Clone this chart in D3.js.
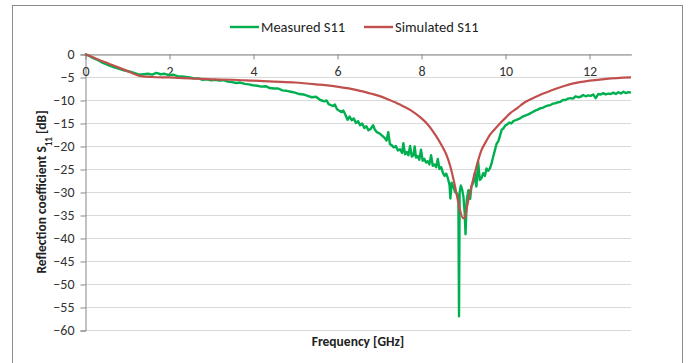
<!DOCTYPE html>
<html>
<head>
<meta charset="utf-8">
<script src="https://cdn.jsdelivr.net/npm/d3@7"></script>
<style>
  body { margin: 0; background: #fff; }
  svg text { font-family: Carlito, "Liberation Sans Narrow", "DejaVu Sans Condensed", sans-serif; }
</style>
</head>
<body>
<svg id="chart"></svg>
<script>
// simulated S11 (GHz, dB)
const simFreq = [0, 0.45, 0.93, 1.33, 1.6, 2, 2.5, 3, 3.5, 4, 4.5, 5, 5.5, 6, 6.5, 6.8, 7, 7.25, 7.5, 7.75,
  8, 8.15, 8.35, 8.5, 8.6, 8.7, 8.78, 8.86, 8.93, 9.0, 9.05, 9.1, 9.17, 9.25, 9.35, 9.44, 9.55, 9.64, 9.76,
  9.88, 10, 10.12, 10.3, 10.44, 10.6, 10.83, 11, 11.23, 11.43, 11.63, 12.02, 12.42, 13];
const simDb = [0, -1.7, -3.4, -4.8, -5.0, -5.1, -5.3, -5.5, -5.6, -5.8, -6.0, -6.2, -6.6, -7.1, -7.9, -8.6, -9.1, -10.0, -11.0, -12.2,
  -13.9, -15.2, -17.7, -20.0, -21.8, -24.5, -27.5, -31, -34, -35.7, -35.5, -33.0, -30.0, -27.0, -23.5, -20.9, -19.0, -17.6, -16.3,
  -15.1, -14.0, -12.9, -11.7, -10.7, -9.9, -8.9, -8.3, -7.5, -6.9, -6.4, -5.8, -5.4, -5.1];

// measured S11 (GHz, dB)
const measFreq = [0, 0.1, 0.2, 0.3, 0.4, 0.5, 0.6, 0.7, 0.8, 0.9, 1.0, 1.1, 1.2, 1.3, 1.4, 1.5, 1.6, 1.7, 1.8, 1.9,
  2.0, 2.1, 2.2, 2.3, 2.4, 2.5, 2.6, 2.7, 2.8, 2.9, 3.0, 3.1, 3.2, 3.3, 3.4, 3.5, 3.6, 3.7, 3.8, 3.9,
  4.0, 4.1, 4.2, 4.3, 4.4, 4.5, 4.6, 4.7, 4.8, 4.9, 5.0, 5.1, 5.2, 5.3, 5.4, 5.5, 5.6, 5.7, 5.75, 5.8,
  5.9, 5.95, 6.0, 6.1, 6.15, 6.2, 6.25, 6.3, 6.35, 6.4, 6.45, 6.5, 6.55, 6.6, 6.65, 6.7, 6.75, 6.8, 6.86, 6.9,
  6.95, 7.02, 7.08, 7.14, 7.18, 7.22, 7.26, 7.3, 7.35, 7.4, 7.45, 7.5, 7.55, 7.58, 7.62, 7.66, 7.7, 7.74, 7.78, 7.82,
  7.85, 7.88, 7.92, 7.96, 8.0, 8.04, 8.08, 8.12, 8.16, 8.2, 8.24, 8.28, 8.32, 8.36, 8.4, 8.44, 8.48, 8.52, 8.56, 8.6,
  8.64, 8.68, 8.7, 8.73, 8.77, 8.81, 8.85, 8.89, 8.905, 8.92, 8.95, 8.98, 9.01, 9.04, 9.06, 9.09, 9.13, 9.17, 9.2, 9.24,
  9.28, 9.32, 9.36, 9.4, 9.44, 9.48, 9.52, 9.56, 9.6, 9.64, 9.68, 9.72, 9.76, 9.8, 9.84, 9.88, 9.92, 9.96, 10.0, 10.05,
  10.1, 10.15, 10.2, 10.25, 10.3, 10.36, 10.42, 10.48, 10.54, 10.6, 10.66, 10.72, 10.78, 10.84, 10.9, 10.96, 11.02, 11.08, 11.14, 11.2,
  11.26, 11.32, 11.38, 11.44, 11.5, 11.56, 11.62, 11.68, 11.74, 11.8, 11.86, 11.92, 11.98, 12.04, 12.1, 12.16, 12.22, 12.28, 12.34, 12.4,
  12.46, 12.52, 12.58, 12.64, 12.7, 12.76, 12.82, 12.88, 12.94, 13.0];
const measDb = [0, -0.4, -0.9, -1.3, -1.8, -2.2, -2.6, -2.9, -3.2, -3.5, -3.7, -3.9, -4.2, -4.5, -4.4, -4.3, -4.5, -4.1, -4.4, -4.3,
  -4.6, -4.5, -4.8, -4.9, -5.0, -5.1, -5.3, -5.3, -5.6, -5.5, -5.7, -5.6, -5.8, -5.7, -6.0, -6.1, -6.3, -6.2, -6.5, -6.6,
  -6.8, -6.9, -7.1, -7.0, -7.4, -7.5, -7.5, -7.9, -8.0, -8.2, -8.4, -8.7, -8.8, -9.1, -9.4, -9.3, -10.0, -10.3, -10.1, -10.9,
  -11.3, -11.0, -12.0, -12.6, -12.3, -13.2, -14.3, -13.6, -14.4, -14.0, -15.0, -14.6, -15.5, -15.1, -16.1, -15.7, -16.6, -16.3, -15.5, -16.4,
  -17.0, -17.3, -17.8, -18.3, -18.8, -17.0, -19.6, -19.8, -20.3, -20.0, -21.0, -20.7, -21.5, -19.4, -21.8, -21.3, -22.0, -20.0, -22.3, -22.0,
  -20.1, -22.5, -22.2, -23.0, -20.8, -23.2, -22.8, -23.6, -23.3, -24.0, -22.0, -24.3, -24.0, -24.6, -22.8, -25.0, -24.6, -25.8, -26.5, -26.0,
  -27.0, -28.5, -31.4, -28.0, -28.8, -30.0, -30.3, -31.0, -57.0, -30.0, -28.6, -29.5, -31.0, -34.5, -39.2, -31.7, -29.6, -31.5, -28.8, -28.1,
  -25.9, -28.8, -23.4, -27.4, -27.0, -25.9, -26.5, -24.9, -25.4, -24.9, -23.8, -22.3, -20.9, -19.5, -19.0, -17.8, -16.5, -16.2, -15.6, -15.3,
  -14.9, -15.1, -14.6, -14.4, -14.2, -14.0, -13.6, -13.4, -13.2, -12.9, -12.6, -12.3, -12.1, -11.8, -11.7, -11.4, -11.2, -11.1, -10.8, -10.7,
  -10.5, -10.4, -10.0, -10.0, -9.7, -9.6, -9.7, -9.2, -9.4, -9.3, -8.9, -9.2, -9.0, -9.1, -8.8, -9.6, -8.7, -8.8, -8.5, -8.8,
  -8.6, -8.7, -8.4, -8.7, -8.3, -8.6, -8.2, -8.5, -8.3, -8.4];

const xTicks = [0, 2, 4, 6, 8, 10, 12];
const yTicks = [0, -5, -10, -15, -20, -25, -30, -35, -40, -45, -50, -55, -60];
const seriesNames = ['Measured S11', 'Simulated S11'];
const seriesColors = ['#00b050', '#c0504d'];

const width = 691, height = 363;
const margin = { top: 54, right: 60, bottom: 33, left: 85 };

const svg = d3.select('#chart').attr('width', width).attr('height', height);

// outer chart frame
svg.append('rect')
  .attr('x', 12.5).attr('y', 5.5)
  .attr('width', 670).attr('height', 370)
  .attr('fill', 'none').attr('stroke', '#8c8c8c');

const x = d3.scaleLinear().domain([0, 13]).range([margin.left, width - margin.right]);
const y = d3.scaleLinear().domain([-60, 0]).range([height - margin.bottom, margin.top]);

// horizontal gridlines
svg.append('g')
  .selectAll('line')
  .data(yTicks)
  .enter()
  .append('line')
  .attr('x1', x(0)).attr('x2', x(13))
  .attr('y1', d => Math.round(y(d)) + 0.5).attr('y2', d => Math.round(y(d)) + 0.5)
  .attr('stroke', '#d9d9d9').attr('stroke-width', 1.2);

// y axis
const yAxis = svg.append('g')
  .attr('transform', `translate(${x(0) + 0.5},0.5)`)
  .call(d3.axisLeft(y).tickValues(yTicks).tickSize(5).tickPadding(6).tickFormat(d3.format('d')));
yAxis.select('.domain').attr('stroke', '#868686');
yAxis.selectAll('.tick line').attr('stroke', '#868686');
yAxis.selectAll('.tick text').attr('fill', '#333').style('font-size', '14px');

// x axis sits on the 0 dB line
const xAxis = svg.append('g')
  .attr('transform', `translate(0.5,${Math.round(y(0)) + 0.5})`)
  .call(d3.axisBottom(x).tickValues(xTicks).tickSize(5).tickPadding(7).tickSizeOuter(0));
xAxis.select('.domain').attr('stroke', '#868686');
xAxis.selectAll('.tick line').attr('stroke', '#868686');
xAxis.selectAll('.tick text').attr('fill', '#333').style('font-size', '14px');

const line = d3.line()
  .x(d => x(d[0]))
  .y(d => y(d[1]));

const measured = measFreq.map((f, i) => [f, measDb[i]]);
const simulated = simFreq.map((f, i) => [f, simDb[i]]);

svg.append('path')
  .datum(measured)
  .attr('d', line)
  .attr('fill', 'none')
  .attr('stroke', seriesColors[0])
  .attr('stroke-width', 2.4)
  .attr('stroke-linejoin', 'round');

svg.append('path')
  .datum(simulated)
  .attr('d', line.curve(d3.curveMonotoneX))
  .attr('fill', 'none')
  .attr('stroke', seriesColors[1])
  .attr('stroke-width', 2.2);

// axis titles
svg.append('text')
  .attr('x', (x(0) + x(13)) / 2)
  .attr('y', 346)
  .attr('text-anchor', 'middle')
  .attr('font-weight', 'bold')
  .attr('fill', '#222')
  .style('font-size', '13.5px')
  .text('Frequency [GHz]');

const yTitle = svg.append('text')
  .attr('transform', `translate(46,${(y(0) + y(-60)) / 2}) rotate(-90)`)
  .attr('text-anchor', 'middle')
  .attr('font-weight', 'bold')
  .attr('fill', '#222')
  .style('font-size', '13.5px');
yTitle.append('tspan').text('Reflection coefficient S');
yTitle.append('tspan').attr('baseline-shift', 'sub').style('font-size', '9px').text('11');
yTitle.append('tspan').text('  [dB]');

// legend
const legendX = [230, 364];
seriesNames.forEach((name, i) => {
  const g = svg.append('g').attr('transform', `translate(${legendX[i]},27)`);
  g.append('line')
    .attr('x1', 0).attr('x2', 29)
    .attr('stroke', seriesColors[i]).attr('stroke-width', 2.4);
  g.append('text')
    .attr('x', 31).attr('y', 5)
    .attr('fill', '#222')
    .style('font-size', '14.5px')
    .text(name);
});
</script>
</body>
</html>
